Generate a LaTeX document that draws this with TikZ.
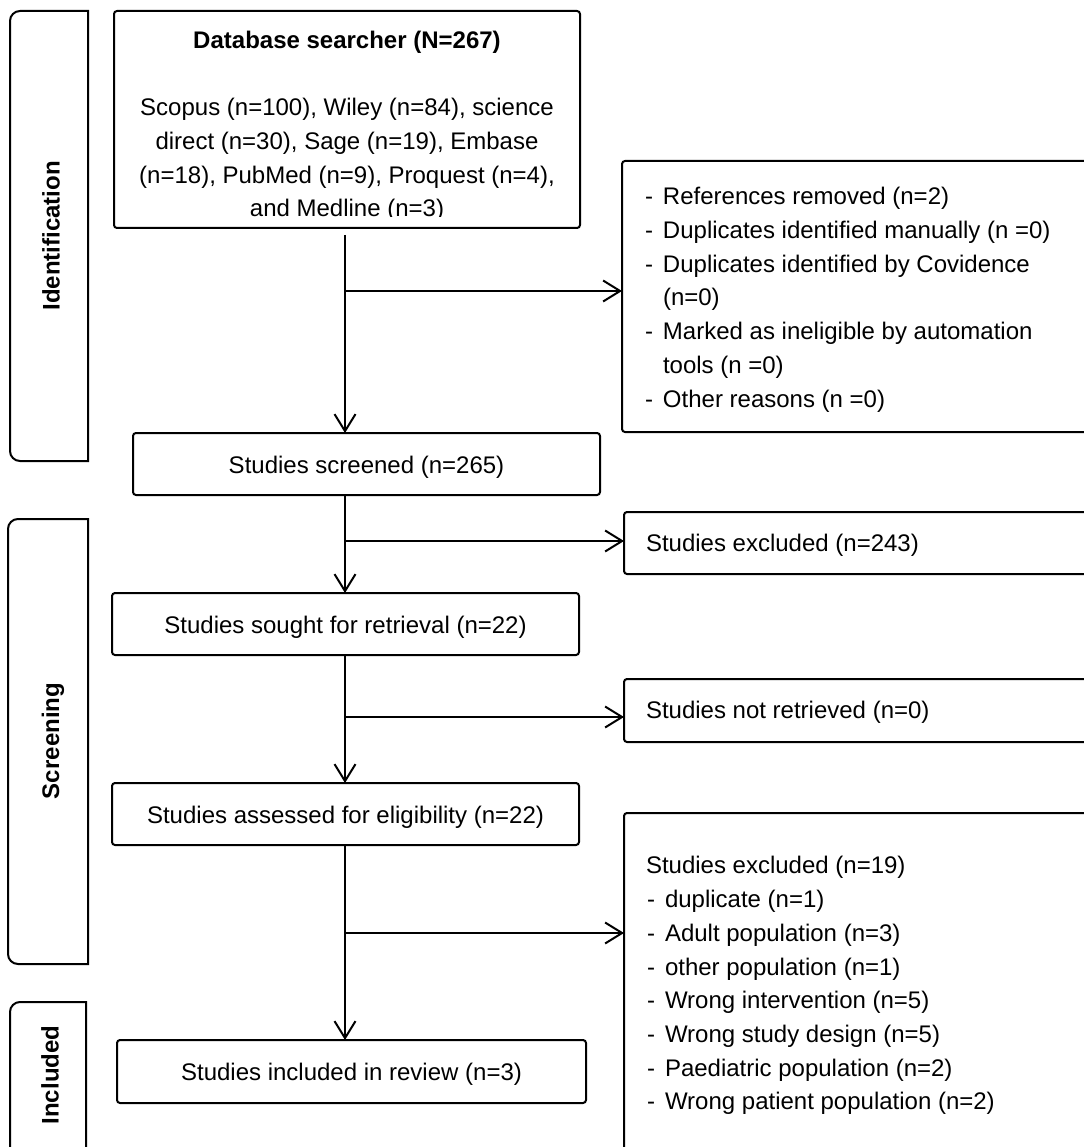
\documentclass[tikz,border=0pt]{standalone}
\usepackage{fontspec}
\setmainfont{Liberation Sans}
\usetikzlibrary{arrows.meta}
\begin{document}
\begin{tikzpicture}[x=1pt,y=1pt,
  every node/.style={font=\fontsize{24}{33.7}\selectfont, inner sep=0pt, outer sep=0pt},
  box/.style={draw, line width=2pt, rounded corners=3pt, anchor=north west},
  boxtxt/.style={text height=20pt, text depth=1.5pt},
  arr/.style={line width=2pt, -{Straight Barb[length=17pt,width=21pt]}},
  phase/.style={draw, line width=2pt},
  phaselbl/.style={font=\fontsize{24}{30}\selectfont\bfseries, rotate=90},
  txt/.style={align=left},
]
\fill[white] (0,0) rectangle (1083,-1147);
\useasboundingbox (0,0) rectangle (1083,-1147);

% phase boxes (left corners rounded)
\draw[phase] (88,-11) -- (20,-11) arc[start angle=90,end angle=180,radius=10]
  -- (10,-451) arc[start angle=180,end angle=270,radius=10] -- (88,-461) -- cycle;
\draw[phase] (88,-519) -- (18,-519) arc[start angle=90,end angle=180,radius=10]
  -- (8,-954) arc[start angle=180,end angle=270,radius=10] -- (88,-964) -- cycle;
\draw[phase] (86,-1160) -- (86,-1002) -- (20,-1002) arc[start angle=90,end angle=180,radius=10]
  -- (10,-1160);
\node[phaselbl] (lid) at (51,-236) {Identification};
\node[phaselbl] (lsc) at (53,-741) {Screening};
\node[phaselbl] (lin) at (50,-1075) {Included};

% main column
\node[box, minimum width=466pt, minimum height=217pt] (db) at (114,-11) {};
\begin{scope}
  \clip (114,-11) rectangle (580,-217);
  \node[align=center, anchor=north] (dbt) at (347,-31)
    {\textbf{Database searcher (N=267)}\\[33.7pt]
     Scopus (n=100), Wiley (n=84), science\\
     direct (n=30), Sage (n=19), Embase\\
     (n=18), PubMed (n=9), Proquest (n=4),\\
     and Medline (n=3)};
\end{scope}
\node[box, boxtxt, minimum width=467pt, minimum height=62pt] (scr) at (133,-433) {Studies screened (n=265)};
\node[box, boxtxt, minimum width=467pt, minimum height=62pt] (sou) at (112,-593) {Studies sought for retrieval (n=22)};
\node[box, boxtxt, minimum width=467pt, minimum height=62pt] (ass) at (112,-783) {Studies assessed for eligibility (n=22)};
\node[box, boxtxt, minimum width=469pt, minimum height=63pt] (inc) at (117,-1040) {Studies included in review (n=3)};

% right column
\node[box, minimum width=478pt, minimum height=271pt] (r1) at (622,-161) {};
\node[txt, anchor=north west] (r1t) at (645,-187.5)
  {\makebox[18pt][l]{-}References removed (n=2)\\
   \makebox[18pt][l]{-}Duplicates identified manually (n =0)\\
   \makebox[18pt][l]{-}Duplicates identified by Covidence\\
   \hspace*{18pt}(n=0)\\
   \makebox[18pt][l]{-}Marked as ineligible by automation\\
   \hspace*{18pt}tools (n =0)\\
   \makebox[18pt][l]{-}Other reasons (n =0)};
\node[box, minimum width=476pt, minimum height=62pt] (r2) at (624,-512) {};
\node[boxtxt, anchor=west] (r2t) at (646,-542) {Studies excluded (n=243)};
\node[box, minimum width=476pt, minimum height=63pt] (r3) at (624,-679) {};
\node[boxtxt, anchor=west] (r3t) at (646,-709) {Studies not retrieved (n=0)};
\node[box, minimum width=476pt, minimum height=350pt] (r4) at (624,-813) {};
\node[txt, anchor=north west] (r4t) at (646,-856.5)
  {Studies excluded (n=19)\\
   \makebox[19pt][l]{\hspace{1pt}-}duplicate (n=1)\\
   \makebox[19pt][l]{\hspace{1pt}-}Adult population (n=3)\\
   \makebox[19pt][l]{\hspace{1pt}-}other population (n=1)\\
   \makebox[19pt][l]{\hspace{1pt}-}Wrong intervention (n=5)\\
   \makebox[19pt][l]{\hspace{1pt}-}Wrong study design (n=5)\\
   \makebox[19pt][l]{\hspace{1pt}-}Paediatric population (n=2)\\
   \makebox[19pt][l]{\hspace{1pt}-}Wrong patient population (n=2)};

% connectors
\coordinate (sp) at (345,0);
\coordinate (j1) at (345,-291);
\coordinate (j2) at (345,-541);
\coordinate (j3) at (345,-717);
\coordinate (j4) at (345,-933);
\draw[arr, shorten <=7pt] (sp |- db.south) -- (sp |- scr.north);
\draw[arr] (sp |- scr.south) -- (sp |- sou.north);
\draw[arr] (sp |- sou.south) -- (sp |- ass.north);
\draw[arr] (sp |- ass.south) -- (sp |- inc.north);
\draw[arr] (j1) -- (j1 -| r1.west);
\draw[arr] (j2) -- (j2 -| r2.west);
\draw[arr] (j3) -- (j3 -| r3.west);
\draw[arr] (j4) -- (j4 -| r4.west);
\end{tikzpicture}
\end{document}
